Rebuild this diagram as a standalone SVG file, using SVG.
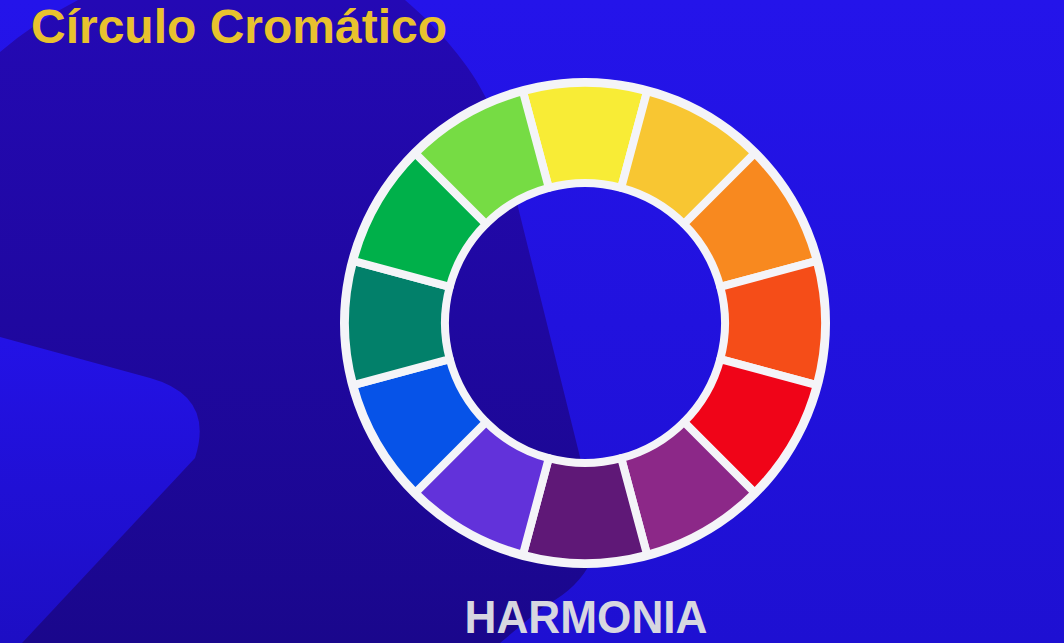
<svg xmlns="http://www.w3.org/2000/svg" xmlns:xlink="http://www.w3.org/1999/xlink" width="1064" height="643" viewBox="0 0 1064 643">
  <defs>
    <linearGradient id="bgBright" x1="0" y1="0" x2="0" y2="1">
      <stop offset="0" stop-color="#2414EA"/>
      <stop offset="1" stop-color="#1E10D2"/>
    </linearGradient>
    <linearGradient id="bgDark" x1="0" y1="0" x2="0" y2="1">
      <stop offset="0" stop-color="#2409B4"/>
      <stop offset="1" stop-color="#1A078C"/>
    </linearGradient>
    <linearGradient id="bgTri" x1="0" y1="0" x2="0" y2="1">
      <stop offset="0" stop-color="#2312E6"/>
      <stop offset="1" stop-color="#1D0EC4"/>
    </linearGradient>
    <path id="wedge" d="M -62.117,-231.822 A 240 240 0 0 1 62.117,-231.822 L 36.235,-135.230 A 140 140 0 0 0 -36.235,-135.230 Z"/>
    <style>
      .seg { stroke: #F4F4F8; stroke-width: 8; stroke-linejoin: round; }
      .title { font-family: "Liberation Sans", Arial, sans-serif; font-weight: 700; }
    </style>
  </defs>

  <!-- background -->
  <rect x="0" y="0" width="1064" height="643" fill="url(#bgBright)"/>
  <path d="M 0,52 Q 35,22 78,0 L 405,0 C 440,30 470,65 487,100 C 500,135 510,170 518,207 L 580,457 C 590,500 598,540 588,567 C 578,585 560,598 543,607 L 500,643 L 0,643 Z" fill="url(#bgDark)"/>
  <path d="M 0,337 L 150,378 Q 215,396 195,458 L 22,643 L 0,643 Z" fill="url(#bgTri)"/>

  <!-- title -->
  <text class="title" x="31" y="43" font-size="48" fill="#E8C22E" textLength="416" lengthAdjust="spacingAndGlyphs">Círculo Cromático</text>

  <!-- color wheel -->
  <g id="wheel" transform="translate(585,323)">
    <path d="M 245,0 A 245 245 0 1 1 -245,0 A 245 245 0 1 1 245,0 Z M 137,0 A 137 137 0 1 0 -137,0 A 137 137 0 1 0 137,0 Z" fill="#F4F4F8" fill-rule="evenodd"/>
    <g id="seg-yellow"><use xlink:href="#wedge" class="seg" fill="#F8EC36" transform="rotate(0)"/></g>
    <g id="seg-yellow-orange"><use xlink:href="#wedge" class="seg" fill="#F8C632" transform="rotate(30)"/></g>
    <g id="seg-orange"><use xlink:href="#wedge" class="seg" fill="#F8891F" transform="rotate(60)"/></g>
    <g id="seg-red-orange"><use xlink:href="#wedge" class="seg" fill="#F54D18" transform="rotate(90)"/></g>
    <g id="seg-red"><use xlink:href="#wedge" class="seg" fill="#F00418" transform="rotate(120)"/></g>
    <g id="seg-red-violet"><use xlink:href="#wedge" class="seg" fill="#8C2888" transform="rotate(150)"/></g>
    <g id="seg-violet"><use xlink:href="#wedge" class="seg" fill="#5F1877" transform="rotate(180)"/></g>
    <g id="seg-blue-violet"><use xlink:href="#wedge" class="seg" fill="#6232DA" transform="rotate(210)"/></g>
    <g id="seg-blue"><use xlink:href="#wedge" class="seg" fill="#0653E8" transform="rotate(240)"/></g>
    <g id="seg-blue-green"><use xlink:href="#wedge" class="seg" fill="#02806A" transform="rotate(270)"/></g>
    <g id="seg-green"><use xlink:href="#wedge" class="seg" fill="#00B04A" transform="rotate(300)"/></g>
    <g id="seg-yellow-green"><use xlink:href="#wedge" class="seg" fill="#76DC44" transform="rotate(330)"/></g>
  </g>

  <!-- bottom label -->
  <text class="title" x="586" y="633" font-size="46" fill="#D7D7E0" text-anchor="middle" textLength="243" lengthAdjust="spacingAndGlyphs">HARMONIA</text>
</svg>
